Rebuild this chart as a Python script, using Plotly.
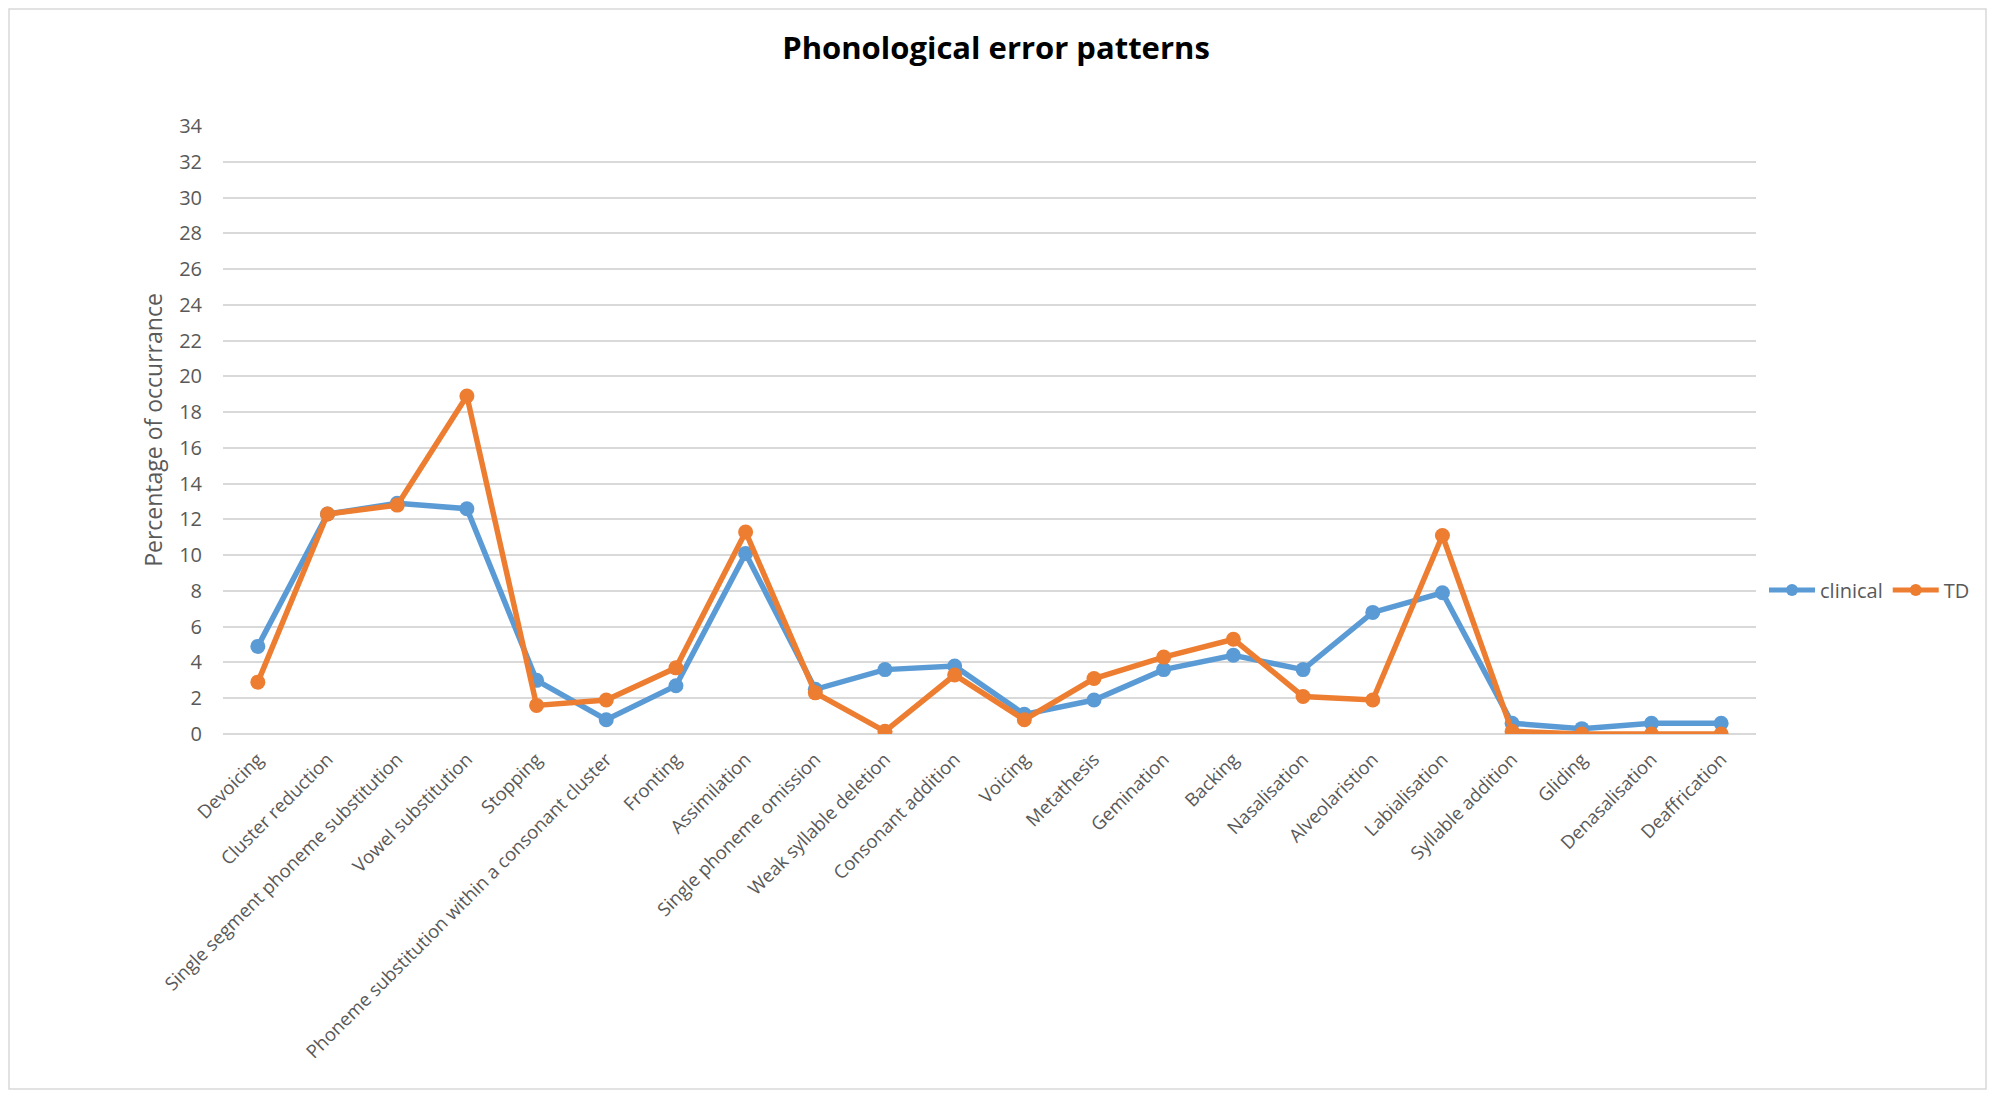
import plotly.graph_objects as go

categories = [
    "Devoicing", "Cluster reduction", "Single segment phoneme substitution",
    "Vowel substitution", "Stopping", "Phoneme substitution within a consonant cluster",
    "Fronting", "Assimilation", "Single phoneme omission", "Weak syllable deletion",
    "Consonant addition", "Voicing", "Metathesis", "Gemination", "Backing",
    "Nasalisation", "Alveolaristion", "Labialisation", "Syllable addition",
    "Gliding", "Denasalisation", "Deaffrication",
]
clinical = [4.9, 12.3, 12.9, 12.6, 3.0, 0.8, 2.7, 10.1, 2.5, 3.6, 3.8,
            1.1, 1.9, 3.6, 4.4, 3.6, 6.8, 7.9, 0.6, 0.3, 0.6, 0.6]
td = [2.9, 12.3, 12.8, 18.9, 1.6, 1.9, 3.7, 11.3, 2.3, 0.15, 3.3,
      0.8, 3.1, 4.3, 5.3, 2.1, 1.9, 11.1, 0.15, 0.0, 0.0, 0.0]
y_ticks = list(range(0, 35, 2))

OFF = 8  # page body margin
W, H = 1995 - 2 * OFF, 1098 - 2 * OFF
# target page coordinates of the plot area
L, R, T, B = 223 - OFF, 1756 - OFF, 126 - OFF, 734 - OFF

BLUE = "#5B9BD5"
ORANGE = "#ED7D31"
TXT = "#595959"
FONT = "Open Sans"

fig = go.Figure()
fig.add_trace(go.Scatter(x=categories, y=clinical, name="clinical", mode="lines+markers",
                         line=dict(color=BLUE, width=5.5), marker=dict(size=15, color=BLUE)))
fig.add_trace(go.Scatter(x=categories, y=td, name="TD", mode="lines+markers",
                         line=dict(color=ORANGE, width=5.5), marker=dict(size=15, color=ORANGE)))

pw, ph = R - L, B - T
def fx(x): return (x - L) / pw          # figure-pixel -> paper
def fy(y): return (B - y) / ph
def px(x): return fx(x - OFF)           # page-pixel -> paper
def py(y): return fy(y - OFF)

fig.update_layout(
    width=W, height=H,
    margin=dict(l=L, r=W - R, t=T, b=H - B, autoexpand=False),
    paper_bgcolor="white", plot_bgcolor="white",
    font=dict(family=FONT, color=TXT, size=18),
    title=dict(text="<b>Phonological error patterns</b>", x=px(996), xanchor="center",
               xref="paper", y=1 - (48 - OFF) / H, yanchor="middle",
               font=dict(family=FONT, size=31, color="#000000")),
    showlegend=True,
    legend=dict(orientation="h", x=px(1764), xanchor="left", y=py(590), yanchor="middle",
                font=dict(size=20, color=TXT), bgcolor="rgba(0,0,0,0)",
                itemwidth=46, tracegroupgap=0, itemsizing="constant"),
    xaxis=dict(type="category", categoryorder="array", categoryarray=categories,
               range=[-0.5, len(categories) - 0.5], tickangle=-45,
               showgrid=False, showline=False, zeroline=False, ticks="",
               ticklabelstandoff=10,
               tickfont=dict(size=18.5, color=TXT), automargin=False),
    yaxis=dict(range=[0, 34], tickvals=y_ticks, showgrid=True, gridcolor="#D9D9D9",
               gridwidth=1.5, zeroline=True, zerolinecolor="#D9D9D9", zerolinewidth=1.5,
               showline=False, ticks="", ticklabelstandoff=20,
               tickfont=dict(size=20, color=TXT),
               title=dict(text="Percentage of occurrance", font=dict(size=23, color=TXT),
                          standoff=10),
               automargin=False),
)
# chart-area border (drawn just inside the figure edges)
fig.add_shape(type="rect", xref="paper", yref="paper",
              x0=fx(1), x1=fx(W - 1), y0=fy(H - 1), y1=fy(1),
              line=dict(color="#D9D9D9", width=1.5), fillcolor="rgba(0,0,0,0)", layer="below")

fig.write_html("out.html")
